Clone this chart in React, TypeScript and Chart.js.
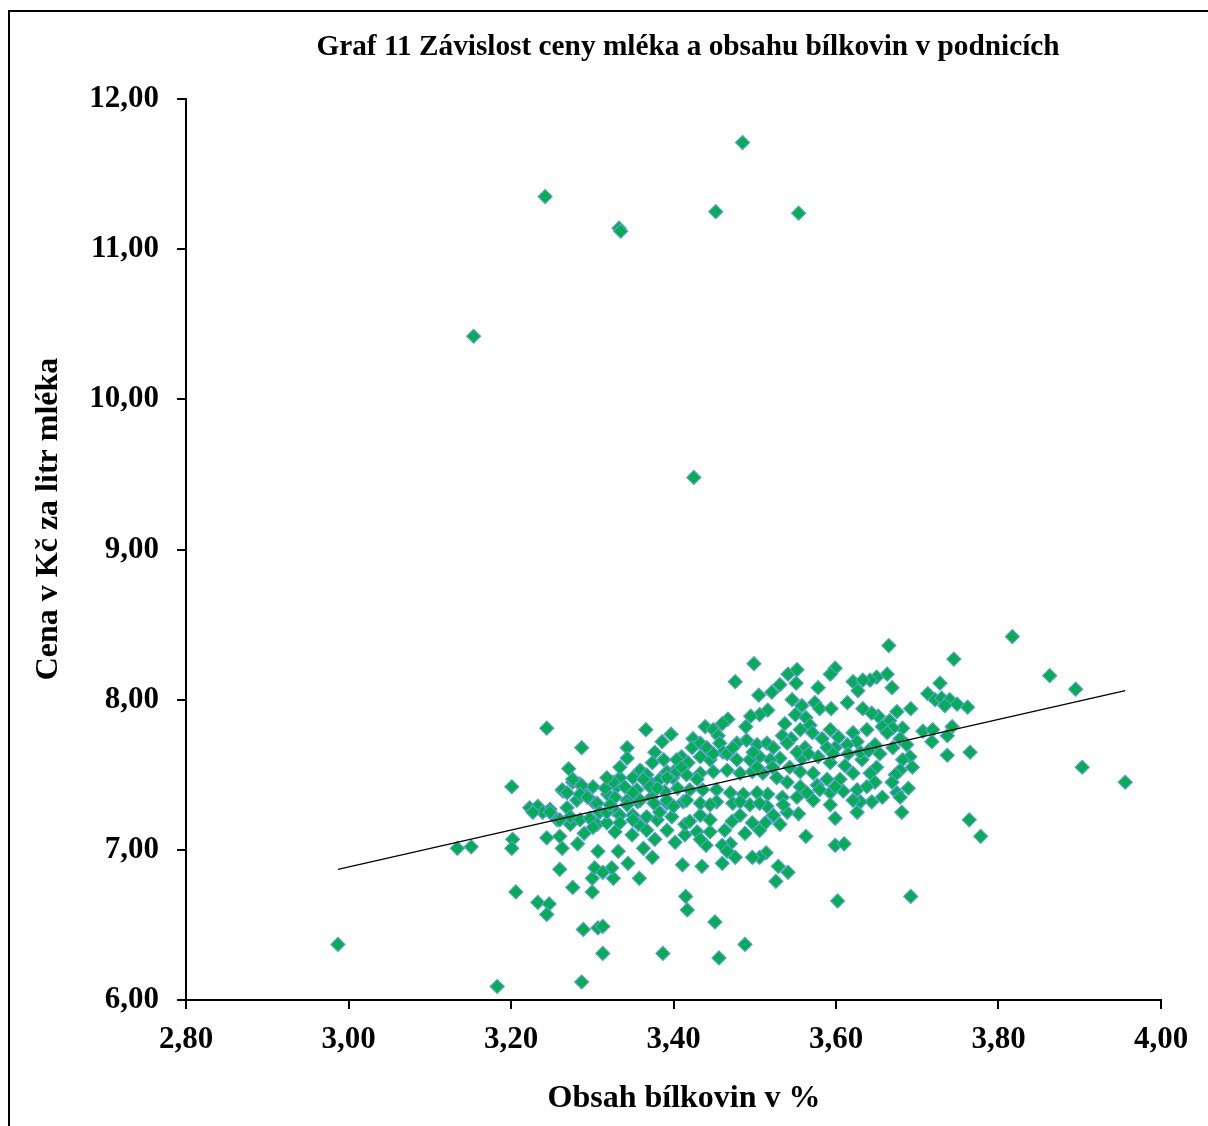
import React, { useEffect, useRef } from "react";
import { Chart, registerables } from "chart.js";

Chart.register(...registerables);

const TITLE = "Graf 11 Závislost ceny mléka a obsahu bílkovin v podnicích";
const X_TITLE = "Obsah bílkovin v %";
const Y_TITLE = "Cena v Kč za litr mléka";

const X_MIN = 2.8;
const X_MAX = 4.0;
const X_STEP = 0.2;
const Y_MIN = 6;
const Y_MAX = 12;
const Y_STEP = 1;

// [protein %, price CZK/l]
const outlierFarms: [number, number][] = [
  [3.485, 11.71], [3.242, 11.35], [3.452, 11.25], [3.554, 11.24], [3.333, 11.14],
  [3.335, 11.12], [3.154, 10.42], [3.425, 9.48], [2.987, 6.37], [3.183, 6.09],
  [3.817, 8.42], [3.863, 8.16], [3.895, 8.07], [3.903, 7.55], [3.956, 7.45],
  [3.692, 6.69], [3.764, 7.2], [3.778, 7.09], [3.765, 7.65], [3.745, 8.27],
];

const lowProteinFarms: [number, number][] = [
  [3.244, 7.81], [3.287, 7.68], [3.271, 7.54], [3.201, 7.42], [3.276, 7.45],
  [3.284, 7.44], [3.301, 7.42], [3.264, 7.39], [3.281, 7.33], [3.291, 7.37],
  [3.223, 7.28], [3.233, 7.29], [3.248, 7.27], [3.269, 7.28], [3.301, 7.32],
  [3.134, 7.01], [3.151, 7.02], [3.202, 7.07], [3.201, 7.01], [3.26, 6.87],
  [3.276, 6.75], [3.206, 6.72], [3.233, 6.65], [3.247, 6.64], [3.244, 6.57],
  [3.289, 6.47], [3.287, 6.12], [3.3, 6.81], [3.3, 6.72], [3.29, 7.11],
  [3.282, 7.04], [3.263, 7.01], [3.244, 7.08], [3.26, 7.09], [3.273, 7.17],
  [3.257, 7.2], [3.239, 7.25], [3.227, 7.25], [3.306, 7.17], [3.307, 6.99],
  [3.303, 6.88], [3.307, 6.48],
  [3.248, 7.25], [3.263, 7.4], [3.269, 7.38], [3.287, 7.43], [3.276, 7.47],
  [3.285, 7.37], [3.294, 7.35], [3.306, 7.31], [3.319, 7.37], [3.33, 7.42],
  [3.26, 7.2], [3.273, 7.22], [3.285, 7.2], [3.297, 7.21], [3.309, 7.25],
  [3.326, 7.27], [3.318, 7.18], [3.301, 7.15],
];

const lowPriceFarms: [number, number][] = [
  [3.415, 6.69], [3.417, 6.6], [3.451, 6.52], [3.488, 6.37], [3.456, 6.28],
  [3.387, 6.31], [3.313, 6.49], [3.313, 6.31], [3.602, 6.66], [3.563, 7.09],
  [3.599, 7.03], [3.61, 7.04], [3.599, 7.21], [3.626, 7.25], [3.554, 7.24],
  [3.526, 6.79], [3.541, 6.85], [3.529, 6.89], [3.514, 6.98], [3.506, 6.95],
  [3.497, 6.95], [3.476, 6.95], [3.47, 7.04], [3.46, 7.03], [3.466, 6.99],
  [3.46, 6.91], [3.435, 6.89], [3.411, 6.9], [3.44, 7.03], [3.402, 7.05],
  [3.374, 6.95], [3.358, 6.81], [3.344, 6.91], [3.326, 6.81], [3.324, 6.88],
  [3.313, 6.85], [3.332, 6.99], [3.363, 7.01], [3.349, 7.1], [3.328, 7.12],
  [3.392, 7.13], [3.414, 7.1], [3.414, 7.17], [3.429, 7.12], [3.445, 7.12],
  [3.463, 7.13], [3.472, 7.19], [3.488, 7.11], [3.497, 7.18], [3.513, 7.18],
  [3.523, 7.23], [3.54, 7.25], [3.367, 7.13], [3.38, 7.2], [3.398, 7.22],
  [3.433, 7.23], [3.445, 7.2], [3.318, 7.25], [3.334, 7.23], [3.35, 7.23],
  [3.681, 7.25], [3.357, 7.17], [3.42, 7.19], [3.482, 7.23], [3.506, 7.13],
  [3.531, 7.17], [3.377, 7.07], [3.433, 7.07],
];

const highProteinFarms: [number, number][] = [
  [3.665, 8.36], [3.663, 8.17], [3.65, 8.15], [3.642, 8.13], [3.669, 8.08],
  [3.728, 8.11], [3.713, 8.04], [3.722, 8.0], [3.73, 8.01], [3.74, 8.0],
  [3.734, 7.96], [3.749, 7.97], [3.762, 7.95], [3.692, 7.94], [3.675, 7.92],
  [3.666, 7.86], [3.652, 7.89], [3.644, 7.91], [3.657, 7.82], [3.682, 7.81],
  [3.67, 7.81], [3.663, 7.78], [3.707, 7.79], [3.719, 7.8], [3.743, 7.82],
  [3.737, 7.76], [3.679, 7.74], [3.718, 7.72], [3.648, 7.7], [3.687, 7.7],
  [3.67, 7.68], [3.654, 7.64], [3.737, 7.63], [3.691, 7.62], [3.682, 7.6],
  [3.65, 7.55], [3.694, 7.55], [3.679, 7.53], [3.642, 7.51], [3.673, 7.5],
  [3.669, 7.45], [3.648, 7.45], [3.689, 7.41], [3.675, 7.38], [3.657, 7.35],
  [3.679, 7.35], [3.644, 7.32],
];

const coreFarms: [number, number][] = [
  [3.499, 8.24], [3.476, 8.12], [3.541, 8.17], [3.552, 8.2], [3.551, 8.11],
  [3.531, 8.1], [3.521, 8.05], [3.505, 8.03], [3.599, 8.21], [3.593, 8.17],
  [3.578, 8.08], [3.621, 8.12], [3.633, 8.13], [3.627, 8.06], [3.614, 7.98],
  [3.633, 7.94], [3.546, 8.0], [3.558, 7.96], [3.574, 7.98], [3.58, 7.94],
  [3.594, 7.94], [3.55, 7.9], [3.563, 7.88], [3.516, 7.93], [3.506, 7.9],
  [3.495, 7.89], [3.489, 7.82], [3.467, 7.87], [3.46, 7.84], [3.439, 7.82],
  [3.449, 7.8], [3.424, 7.74], [3.397, 7.77], [3.386, 7.72], [3.366, 7.8],
  [3.343, 7.68], [3.343, 7.61], [3.377, 7.65], [3.388, 7.6], [3.41, 7.62],
  [3.423, 7.68], [3.433, 7.71], [3.455, 7.76], [3.457, 7.71], [3.461, 7.65],
  [3.478, 7.71], [3.49, 7.73], [3.503, 7.7], [3.515, 7.71], [3.523, 7.68],
  [3.537, 7.84], [3.534, 7.76], [3.545, 7.74], [3.556, 7.8], [3.562, 7.68],
  [3.558, 7.61], [3.568, 7.83], [3.571, 7.78], [3.583, 7.74], [3.593, 7.8],
  [3.603, 7.75], [3.621, 7.78], [3.638, 7.8], [3.626, 7.72], [3.614, 7.7],
  [3.599, 7.68], [3.589, 7.68], [3.578, 7.62], [3.593, 7.58], [3.611, 7.56],
  [3.632, 7.6], [3.621, 7.51], [3.605, 7.47], [3.589, 7.47], [3.572, 7.51],
  [3.556, 7.52], [3.543, 7.55], [3.531, 7.61], [3.519, 7.6], [3.506, 7.62],
  [3.494, 7.6], [3.478, 7.6], [3.466, 7.64], [3.445, 7.6], [3.433, 7.62],
  [3.418, 7.58], [3.404, 7.54], [3.392, 7.52], [3.374, 7.58], [3.361, 7.52],
  [3.35, 7.48], [3.334, 7.48], [3.326, 7.45], [3.316, 7.41], [3.34, 7.42],
  [3.355, 7.4], [3.371, 7.45], [3.383, 7.47], [3.399, 7.48], [3.416, 7.5],
  [3.433, 7.51], [3.449, 7.52], [3.466, 7.53], [3.482, 7.51], [3.497, 7.52],
  [3.51, 7.51], [3.527, 7.48], [3.54, 7.45], [3.556, 7.42], [3.577, 7.43],
  [3.593, 7.38], [3.609, 7.39], [3.626, 7.4], [3.638, 7.42], [3.63, 7.32],
  [3.593, 7.3], [3.572, 7.33], [3.552, 7.35], [3.534, 7.35], [3.516, 7.37],
  [3.503, 7.38], [3.486, 7.37], [3.47, 7.38], [3.453, 7.4], [3.436, 7.4],
  [3.42, 7.4], [3.405, 7.41], [3.389, 7.39], [3.373, 7.35], [3.356, 7.32],
  [3.343, 7.33], [3.328, 7.35], [3.322, 7.3], [3.392, 7.31], [3.412, 7.32],
  [3.433, 7.31], [3.453, 7.32], [3.473, 7.31], [3.494, 7.3], [3.515, 7.29],
  [3.535, 7.3], [3.359, 7.53], [3.367, 7.5], [3.371, 7.42], [3.392, 7.48],
  [3.404, 7.52], [3.343, 7.3], [3.359, 7.33], [3.376, 7.31], [3.392, 7.33],
  [3.4, 7.29], [3.383, 7.25], [3.367, 7.22], [3.35, 7.2], [3.334, 7.18],
  [3.404, 7.6], [3.41, 7.55], [3.441, 7.68], [3.449, 7.64], [3.473, 7.68],
  [3.498, 7.65], [3.54, 7.71], [3.552, 7.65], [3.566, 7.64], [3.596, 7.64],
  [3.615, 7.64], [3.63, 7.65], [3.64, 7.66], [3.522, 7.55], [3.503, 7.55],
  [3.429, 7.47], [3.38, 7.41], [3.363, 7.47], [3.334, 7.55], [3.318, 7.48],
  [3.35, 7.38], [3.416, 7.33], [3.445, 7.3], [3.482, 7.32], [3.506, 7.31],
  [3.564, 7.38], [3.58, 7.4], [3.621, 7.33], [3.599, 7.42],
];

const trendProtein = [2.987, 3.956];
const trendPrice = [6.87, 8.06];

const FONT = "'Liberation Serif', 'Times New Roman', serif";

const fmt = (v: number) => Number(v).toFixed(2).replace(".", ",");

const framePlugin = {
  id: "frameAndTitles",
  beforeDraw(chart: any) {
    const ctx = chart.ctx;
    ctx.save();
    ctx.fillStyle = "#ffffff";
    ctx.fillRect(0, 0, chart.width, chart.height);
    ctx.strokeStyle = "#000000";
    ctx.lineWidth = 2;
    ctx.beginPath();
    ctx.moveTo(9, chart.height + 10);
    ctx.lineTo(9, 11);
    ctx.lineTo(chart.width + 10, 11);
    ctx.stroke();
    ctx.restore();
  },
  afterDraw(chart: any) {
    const ctx = chart.ctx;
    ctx.save();
    ctx.fillStyle = "#000000";
    ctx.textAlign = "center";
    ctx.textBaseline = "alphabetic";
    ctx.font = `bold 29.3px ${FONT}`;
    ctx.fillText(TITLE, 688, 55);
    ctx.font = `bold 32px ${FONT}`;
    ctx.fillText(X_TITLE, 684, 1107);
    ctx.translate(57, 519);
    ctx.rotate(-Math.PI / 2);
    ctx.fillText(Y_TITLE, 0, 0);
    ctx.restore();
  },
};

export default function App() {
  const ref = useRef<HTMLCanvasElement | null>(null);

  useEffect(() => {
    if (!ref.current) return;
    const farms = [
      ...outlierFarms,
      ...lowProteinFarms,
      ...lowPriceFarms,
      ...highProteinFarms,
      ...coreFarms,
    ].map(([x, y]) => ({ x, y }));
    const trend = trendProtein.map((x, i) => ({ x, y: trendPrice[i] }));

    const tickFont = { family: FONT, size: 31, weight: "bold" as const };

    const chart = new Chart(ref.current, {
      type: "scatter",
      data: {
        datasets: [
          {
            type: "line" as any,
            label: "trend",
            data: trend,
            borderColor: "#000000",
            borderWidth: 1.3,
            pointRadius: 0,
            fill: false,
            showLine: true,
          },
          {
            label: "farms",
            data: farms,
            pointStyle: "rectRot",
            pointRadius: 7,
            pointBackgroundColor: "#00B050",
            pointBorderColor: "#5B9BD5",
            pointBorderWidth: 1.2,
          },
        ],
      },
      options: {
        responsive: false,
        animation: false,
        layout: { padding: { left: 0, right: 47, top: 99, bottom: 0 } },
        plugins: {
          legend: { display: false },
          tooltip: { enabled: false },
          title: { display: false },
        },
        scales: {
          x: {
            type: "linear",
            min: X_MIN,
            max: X_MAX,
            ticks: {
              stepSize: X_STEP,
              callback: (v: any) => fmt(v),
              font: tickFont,
              color: "#000000",
              padding: 12,
              maxRotation: 0,
              autoSkip: false,
            },
            grid: {
              display: true,
              drawOnChartArea: false,
              drawTicks: true,
              tickLength: 9,
              color: "#000000",
              lineWidth: 2,
            },
            border: { display: true, color: "#000000", width: 2 },
            afterFit: (s: any) => {
              s.height = 126;
            },
          },
          y: {
            type: "linear",
            min: Y_MIN,
            max: Y_MAX,
            ticks: {
              stepSize: Y_STEP,
              callback: (v: any) => fmt(v),
              font: tickFont,
              color: "#000000",
              padding: 18,
            },
            grid: {
              display: true,
              drawOnChartArea: false,
              drawTicks: true,
              tickLength: 9,
              color: "#000000",
              lineWidth: 2,
            },
            border: { display: true, color: "#000000", width: 2 },
            afterFit: (s: any) => {
              s.width = 186;
            },
          },
        },
      },
      plugins: [framePlugin],
    });
    return () => chart.destroy();
  }, []);

  return (
    <div style={{ position: "fixed", left: 0, top: 0, width: 1208, height: 1126, background: "#fff" }}>
      <canvas ref={ref} width={1208} height={1126} style={{ width: 1208, height: 1126, display: "block" }} />
    </div>
  );
}
